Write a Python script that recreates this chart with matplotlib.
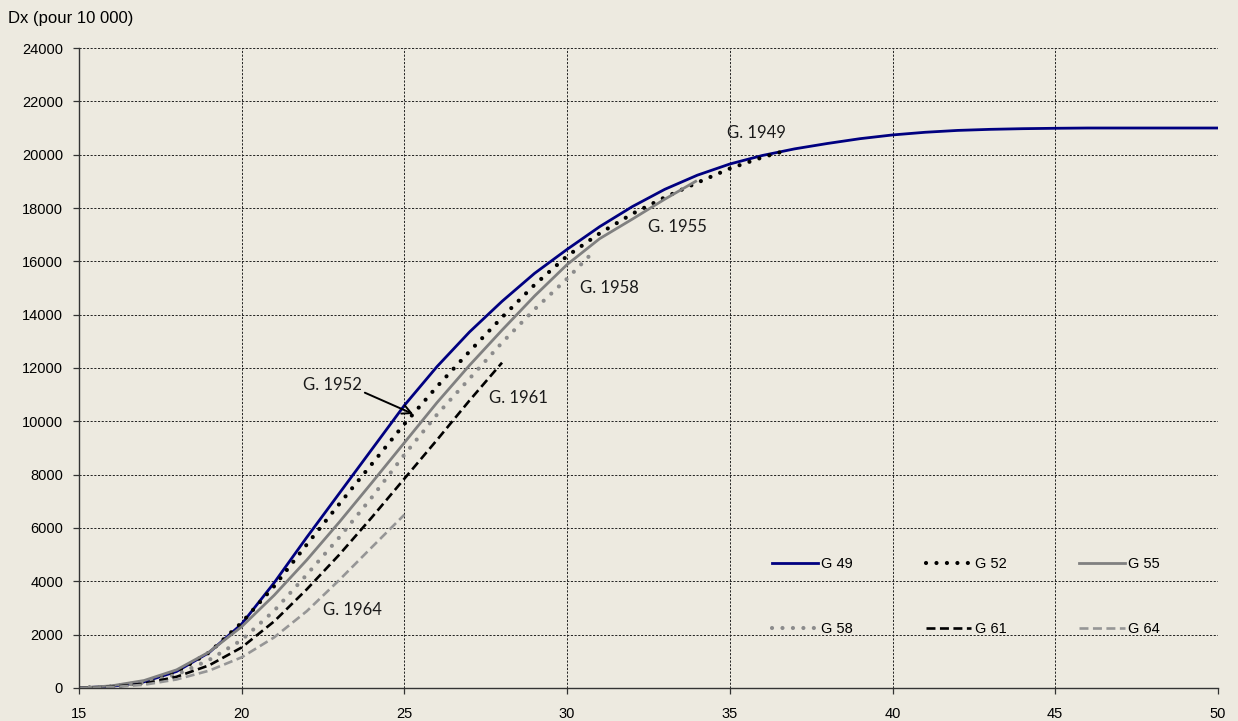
import matplotlib

matplotlib.use("Agg")
import matplotlib.pyplot as plt

# Descendance cumulée par génération (pour 10 000 femmes)
ages_49 = [15, 16, 17, 18, 19, 20, 21, 22, 23, 24, 25, 26, 27, 28, 29, 30, 31, 32,
           33, 34, 35, 36, 37, 38, 39, 40, 41, 42, 43, 44, 45, 46, 47, 48, 49, 50]
dx_49 = [0, 60, 230, 620, 1330, 2400, 3950, 5650, 7300, 8950, 10600, 12050, 13350,
         14500, 15550, 16450, 17300, 18050, 18700, 19230, 19650, 19970, 20220, 20420,
         20600, 20740, 20840, 20910, 20950, 20975, 20990, 21000, 21000, 21000, 21000, 21000]

ages_52 = [15, 16, 17, 18, 19, 20, 21, 22, 23, 24, 25, 26, 27, 28, 29, 30, 31, 32,
           33, 34, 35, 36, 36.8]
dx_52 = [0, 50, 220, 600, 1330, 2450, 3820, 5380, 6900, 8400, 9900, 11300, 12620,
         13900, 15120, 16200, 17050, 17780, 18400, 18950, 19480, 19900, 20180]

ages_55 = [15, 16, 17, 18, 19, 20, 21, 22, 23, 24, 25, 26, 27, 28, 29, 30, 31, 32,
           33, 33.95]
dx_55 = [0, 80, 280, 680, 1350, 2300, 3480, 4800, 6220, 7700, 9200, 10700, 12100,
         13420, 14700, 15880, 16850, 17580, 18330, 19000]

ages_58 = [15, 16, 17, 18, 19, 20, 21, 22, 23, 24, 25, 26, 27, 28, 29, 30, 30.8]
dx_58 = [0, 50, 200, 500, 1050, 1800, 2900, 4250, 5650, 7150, 8750, 10250, 11600,
         12950, 14200, 15350, 16350]

ages_61 = [15, 16, 17, 18, 19, 20, 21, 22, 23, 24, 25, 26, 27, 28]
dx_61 = [0, 40, 160, 420, 850, 1520, 2500, 3700, 5000, 6400, 7850, 9300, 10780, 12200]

ages_64 = [15, 16, 17, 18, 19, 20, 21, 22, 23, 24, 25]
dx_64 = [0, 30, 120, 320, 650, 1150, 1900, 2880, 4050, 5280, 6500]

x_ticks = [15, 20, 25, 30, 35, 40, 45, 50]
y_ticks = list(range(0, 24001, 2000))

BG = "#EDEAE0"
FONT = ["Liberation Sans", "DejaVu Sans"]
NOTE_FONT = ["Lato", "DejaVu Sans"]

plt.rcParams["font.family"] = FONT

fig = plt.figure(figsize=(12.38, 7.21), dpi=100, facecolor=BG)
ax = fig.add_axes([0.0638, 0.0458, 0.9200, 0.8876], facecolor=BG)

dots = (0, (0.01, 2.5))
l49, = ax.plot(ages_49, dx_49, color="#000080", lw=2.0, label="G 49")
l52, = ax.plot(ages_52, dx_52, color="black", lw=3.0, linestyle=dots,
               dash_capstyle="round", label="G 52")
l55, = ax.plot(ages_55, dx_55, color="#808080", lw=2.0, label="G 55")
l58, = ax.plot(ages_58, dx_58, color="#8C8C8C", lw=3.0, linestyle=dots,
               dash_capstyle="round", label="G 58")
l61, = ax.plot(ages_61, dx_61, color="black", lw=1.9, linestyle=(0, (3.4, 1.7)),
               label="G 61")
l64, = ax.plot(ages_64, dx_64, color="#969696", lw=1.9, linestyle=(0, (3.4, 1.7)),
               label="G 64")

ax.set_xlim(15, 50)
ax.set_ylim(0, 24000)
ax.set_xticks(x_ticks)
ax.set_yticks(y_ticks)
ax.tick_params(axis="both", labelsize=10.5, length=4, width=0.9, color="#333333",
               direction="out")
ax.tick_params(axis="y", pad=7.5)
ax.tick_params(axis="x", pad=10)

ax.grid(True, color="#222222", linestyle=(0, (2.2, 1.6)), linewidth=0.7)
ax.set_axisbelow(True)
for side in ("top", "right"):
    ax.spines[side].set_visible(False)
for side in ("left", "bottom"):
    ax.spines[side].set_color("#333333")
    ax.spines[side].set_linewidth(1.0)

fig.text(0.0065, 0.974, "Dx (pour 10 000)", fontsize=12, ha="left", va="center")

# étiquettes des générations
notes = [("G. 1949", 34.9, 20810), ("G. 1955", 32.48, 17275),
         ("G. 1958", 30.4, 14990), ("G. 1961", 27.59, 10890),
         ("G. 1964", 22.5, 2925)]
for txt, x, y in notes:
    ax.text(x, y, txt, fontsize=12, family=NOTE_FONT, ha="left", va="center",
            color="#1a1a1a")

ax.annotate("G. 1952", xy=(25.27, 10275), xytext=(21.89, 11360),
            fontsize=12, family=NOTE_FONT, ha="left", va="center", color="#1a1a1a",
            arrowprops=dict(arrowstyle="->", color="black", lw=1.4,
                            shrinkA=0, shrinkB=0, mutation_scale=16,
                            relpos=(1.0, 0.1)))

leg = ax.legend([l49, l58, l52, l61, l55, l64],
                ["G 49", "G 58", "G 52", "G 61", "G 55", "G 64"],
                ncol=3, loc="center", bbox_to_anchor=(0.7790, 0.1430),
                frameon=False, fontsize=10.5, handlelength=3.1, handletextpad=0.25,
                columnspacing=5.0, labelspacing=3.45, borderpad=0)

fig.savefig("out.png", dpi=100, facecolor=BG)
